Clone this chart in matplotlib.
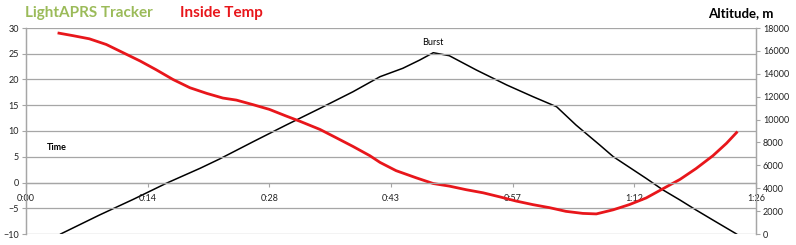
import matplotlib.pyplot as plt

plt.rcParams['font.family'] = ['Lato', 'DejaVu Sans']

# Time in minutes since start
alt_time = [4.1, 8.7, 12.7, 16.6, 20.6, 22.9, 26.9, 30.8, 34.8, 38.7, 41.9, 44.6,
            46.6, 48.2, 50.1, 53.3, 56.9, 60.0, 62.8, 65.1, 67.9, 69.5, 73.4, 75.4,
            77.4, 79.3, 81.3, 84.1]
altitude = [0, 1660, 3030, 4430, 5740, 6550, 8070, 9525, 10980, 12430, 13745, 14480,
            15200, 15840, 15580, 14330, 13020, 12000, 11120, 9520, 7780, 6760, 4860, 3845,
            2970, 2100, 1220, 0]

temp_time = [3.9, 5.6, 7.5, 9.5, 11.5, 13.5, 15.4, 17.4, 19.4, 21.4, 23.3, 24.9, 26.9,
             28.8, 30.8, 32.4, 34.8, 36.7, 38.7, 40.7, 41.9, 43.8, 46.2, 48.2, 50.1,
             52.1, 54.1, 56.1, 58.0, 60.0, 62.0, 63.9, 65.9, 67.5, 69.5, 71.4, 73.4,
             75.4, 77.4, 79.3, 81.3, 82.9, 84.1]
inside_temp = [29.0, 28.5, 27.9, 26.8, 25.2, 23.6, 21.9, 20.0, 18.4, 17.3, 16.4, 16.0, 15.1,
               14.2, 12.9, 11.9, 10.3, 8.7, 7.0, 5.2, 3.9, 2.3, 0.9, -0.2, -0.7,
               -1.4, -2.0, -2.8, -3.6, -4.3, -4.9, -5.6, -6.0, -6.1, -5.3, -4.3, -3.0,
               -1.2, 0.6, 2.7, 5.2, 7.6, 9.7]

time_ticks = [0, 14.4, 28.8, 43.2, 57.6, 72.0, 86.4]
time_labels = ["0:00", "0:14", "0:28", "0:43", "0:57", "1:12", "1:26"]
temp_ticks = [-10, -5, 0, 5, 10, 15, 20, 25, 30]
alt_ticks = list(range(0, 18001, 2000))

grid_col = '#a6a6a6'

fig = plt.figure(figsize=(7.96, 2.45), dpi=100)
ax = fig.add_axes([26 / 796, 11 / 245, 730 / 796, 206 / 245])
ax2 = ax.twinx()

# altitude (right axis)
ax2.plot(alt_time, altitude, color='black', lw=1.1)
ax2.set_ylim(0, 18000)
ax2.set_yticks(alt_ticks)
ax2.tick_params(axis='y', labelsize=6.5, length=3, width=0.8, color=grid_col, pad=2,
                labelcolor='#222222')
ax2.annotate("Burst", (alt_time[13], altitude[13]), xytext=(0, 4),
             textcoords='offset points', ha='center', va='bottom', fontsize=6.5)

# temperature (left axis), drawn on top
ax.set_zorder(ax2.get_zorder() + 1)
ax.patch.set_visible(False)
ax.plot(temp_time, inside_temp, color='#e8161b', lw=2.0)
ax.set_xlim(0, 86.4)
ax.set_ylim(-10, 30)
ax.set_yticks(temp_ticks)
ax.set_xticks(time_ticks)
ax.set_xticklabels(time_labels)
ax.yaxis.grid(True, color=grid_col, lw=0.9)
ax.tick_params(axis='y', labelsize=6.5, length=3, width=0.8, color=grid_col, pad=2,
               labelcolor='#222222')
ax.tick_params(axis='x', labelsize=6.5, length=3, width=0.8, color=grid_col, pad=5,
               labelcolor='#222222')
ax.spines['bottom'].set_position(('data', 0))

for a in (ax, ax2):
    a.spines['top'].set_visible(False)
    for s in ('left', 'right', 'bottom'):
        a.spines[s].set_color(grid_col)
        a.spines[s].set_linewidth(0.9)
ax2.spines['bottom'].set_visible(False)

ax.text(57 / 796, 1 - 147 / 245, "Time", transform=fig.transFigure, ha='center',
        va='center', fontsize=6.5, fontweight='bold')

fig.text(25 / 796, 1 - 13 / 245, "LightAPRS Tracker", color='#9bbb59', fontsize=11,
         fontweight='bold', ha='left', va='center')
fig.text(180 / 796, 1 - 13 / 245, "Inside Temp", color='#e8161b', fontsize=11,
         fontweight='bold', ha='left', va='center')
fig.text(741 / 796, 1 - 13 / 245, "Altitude, m", color='black', fontsize=9.5,
         fontweight='bold', ha='center', va='center')

fig.savefig("out.png", dpi=100)
